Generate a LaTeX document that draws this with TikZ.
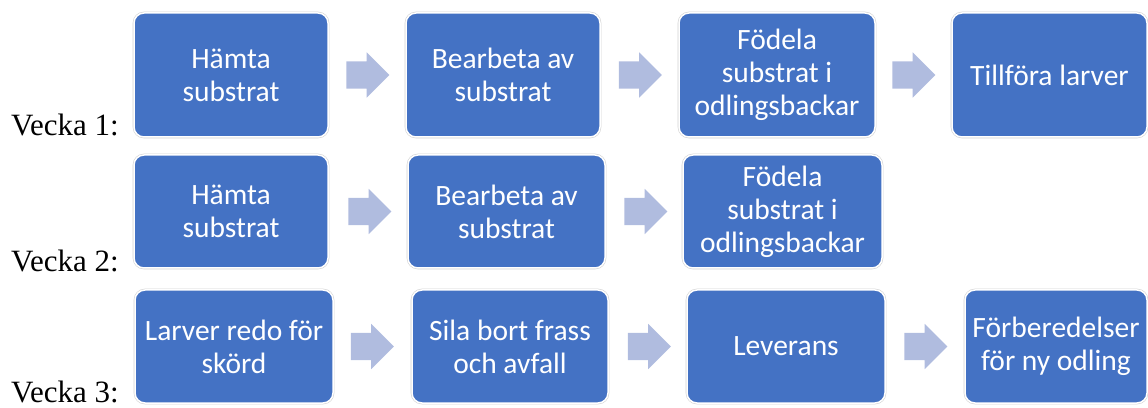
\documentclass[tikz,border=0pt]{standalone}
\usepackage{fontspec}
\usetikzlibrary{shapes.arrows}
\setmainfont{Liberation Serif}
\newfontfamily\boxfont{Carlito}
\definecolor{boxblue}{HTML}{4472C4}
\definecolor{arrowblue}{HTML}{B0BCDF}
\begin{document}
\begin{tikzpicture}[x=1pt,y=1pt,
  stepbox/.style={rectangle, rounded corners=10pt, fill=boxblue, draw=white, line width=1.5pt,
    preaction={draw=black!18, line width=2.6pt}, text=white,
    font=\boxfont\fontsize{29.5}{33}\selectfont, align=center, inner sep=0pt},
  flowarrow/.style={single arrow, shape border rotate=0, fill=arrowblue, draw=none,
    single arrow head extend=9pt, single arrow tip angle=90,
    inner xsep=0pt, inner ysep=13.5pt, minimum height=43pt, minimum width=0pt},
  week/.style={anchor=base west, inner sep=0pt, font=\fontsize{31}{36}\selectfont}
]
\useasboundingbox (0,0) rectangle (1148,407);
% Row 1
\node[stepbox, minimum width=194pt, minimum height=124pt] (b11) at (231,332) {Hämta\\substrat};
\node[stepbox, minimum width=194pt, minimum height=124pt] (b12) at (503,332) {Bearbeta av\\substrat};
\node[stepbox, minimum width=196pt, minimum height=124pt] (b13) at (777,332) {Födela\\substrat i\\odlingsbackar};
\node[stepbox, minimum width=195pt, minimum height=124pt] (b14) at (1049.5,332) {Tillföra larver};
\node[flowarrow] (a11) at (361,332) {};
\node[flowarrow] (a12) at (633.5,332) {};
\node[flowarrow] (a13) at (907,332) {};
% Row 2
\node[stepbox, minimum width=194pt, minimum height=113pt] (b21) at (231,195.5) {Hämta\\substrat};
\node[stepbox, minimum width=197pt, minimum height=113pt] (b22) at (506.5,195.5) {Bearbeta av\\substrat};
\node[stepbox, minimum width=199pt, minimum height=113pt] (b23) at (782.5,195.5) {Födela\\substrat i\\odlingsbackar};
\node[flowarrow] (a21) at (363,195.5) {};
\node[flowarrow] (a22) at (639,195.5) {};
% Row 3
\node[stepbox, minimum width=198pt, minimum height=113pt] (b31) at (234,60.5) {Larver redo för\\skörd};
\node[stepbox, minimum width=196pt, minimum height=113pt] (b32) at (510,60.5) {Sila bort frass\\och avfall};
\node[stepbox, minimum width=198pt, minimum height=113pt] (b33) at (786,60.5) {Leverans};
\node[stepbox, minimum width=182pt, minimum height=113pt] (b34) at (1056,60.5) {Förberedelser\\för ny odling};
\node[flowarrow] (a31) at (365.5,60.5) {};
\node[flowarrow] (a32) at (642.5,60.5) {};
\node[flowarrow] (a33) at (919,60.5) {};
% Week labels
\node[week] (w1) at (11,271) {Vecka 1:};
\node[week] (w2) at (11,135) {Vecka 2:};
\node[week] (w3) at (11,5) {Vecka 3:};
\end{tikzpicture}
\end{document}
